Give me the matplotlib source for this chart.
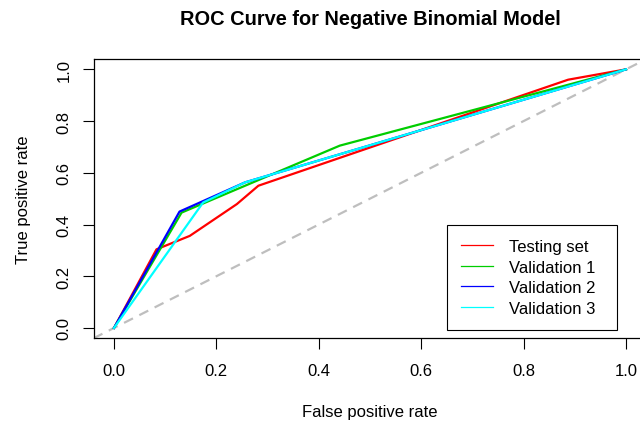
import matplotlib
matplotlib.use("Agg")
import matplotlib.pyplot as plt

plt.rcParams['font.family'] = ['Liberation Sans', 'DejaVu Sans']

# ROC points
fpr_test = [0.0, 0.083, 0.148, 0.240, 0.282, 0.887, 1.0]
tpr_test = [0.0, 0.304, 0.356, 0.479, 0.550, 0.960, 1.0]

fpr_val1 = [0.0, 0.132, 0.441, 1.0]
tpr_val1 = [0.0, 0.446, 0.705, 1.0]

fpr_val2 = [0.0, 0.128, 0.256, 1.0]
tpr_val2 = [0.0, 0.450, 0.563, 1.0]

fpr_val3 = [0.0, 0.174, 0.256, 1.0]
tpr_val3 = [0.0, 0.485, 0.563, 1.0]

labels = ["Testing set", "Validation 1", "Validation 2", "Validation 3"]
colors = ["#FF0000", "#00CD00", "#0000FF", "#00FFFF"]
ticks = [0.0, 0.2, 0.4, 0.6, 0.8, 1.0]

fig = plt.figure(figsize=(6.4, 4.27), dpi=100)
ax = fig.add_axes([93.5 / 640, 1 - 339.3 / 427, 553 / 640, 279.3 / 427])

# chance line
ax.plot([-0.04, 1.04], [-0.04, 1.04], color="#BEBEBE", lw=1.6,
        dashes=(4.5, 3.2), zorder=1)

series = [(fpr_test, tpr_test), (fpr_val1, tpr_val1),
          (fpr_val2, tpr_val2), (fpr_val3, tpr_val3)]
for (x, y), c in zip(series, colors):
    ax.plot(x, y, color=c, lw=1.6, zorder=2)

ax.set_xlim(-0.04, 1.04)
ax.set_ylim(-0.04, 1.04)
ax.set_xticks(ticks)
ax.set_yticks(ticks)
ax.set_xticklabels([f"{t:.1f}" for t in ticks])
ax.set_yticklabels([f"{t:.1f}" for t in ticks], rotation=90, va="center")
ax.tick_params(direction="out", length=8, width=0.8, labelsize=12,
               pad=10)
ax.tick_params(axis="y", pad=8)
for s in ax.spines.values():
    s.set_linewidth(0.9)

ax.set_xlabel("False positive rate", fontsize=12, labelpad=18.5)
ax.set_ylabel("True positive rate", fontsize=12, labelpad=18)
ax.set_title("ROC Curve for Negative Binomial Model", fontsize=14.4,
             fontweight="bold", pad=25)

handles = [plt.Line2D([], [], color=c, lw=0.9) for c in colors]
leg = ax.legend(handles, labels, loc="lower left",
                bbox_to_anchor=((446.7 - 93.5) / 553, (339.3 - 330.7) / 279.3,
                                (616.7 - 446.7) / 553, (330.7 - 225) / 279.3),
                mode="expand", fontsize=12, fancybox=False, framealpha=1,
                edgecolor="black", borderaxespad=0, handlelength=1.9,
                labelspacing=0.33, borderpad=0.85, handletextpad=1.0)
leg.get_frame().set_linewidth(0.8)

fig.savefig("out.png", dpi=100)
